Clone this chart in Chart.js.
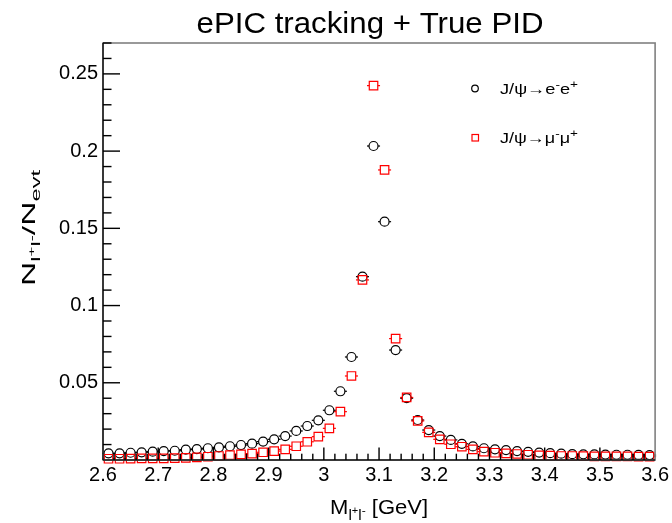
<!DOCTYPE html>
<html>
<head>
<meta charset="utf-8">
<script src="https://cdn.jsdelivr.net/npm/chart.js@4.4.1/dist/chart.umd.min.js"></script>
<style>
  html, body { margin: 0; padding: 0; background: #fff; }
</style>
</head>
<body>
<canvas id="chart" width="672" height="523"></canvas>
<script>
// bin centres of the invariant mass histogram (GeV)
const massBins = [
  2.61, 2.63, 2.65, 2.67, 2.69, 2.71, 2.73, 2.75, 2.77, 2.79,
  2.81, 2.83, 2.85, 2.87, 2.89, 2.91, 2.93, 2.95, 2.97, 2.99,
  3.01, 3.03, 3.05, 3.07, 3.09, 3.11, 3.13, 3.15, 3.17, 3.19,
  3.21, 3.23, 3.25, 3.27, 3.29, 3.31, 3.33, 3.35, 3.37, 3.39,
  3.41, 3.43, 3.45, 3.47, 3.49, 3.51, 3.53, 3.55, 3.57, 3.59
];
const binHalfWidth = 0.01;

// J/psi -> e- e+
const eeYield = [
  0.0043, 0.0043, 0.0047, 0.0050, 0.0054, 0.0058, 0.0060, 0.0067, 0.0071, 0.0076,
  0.0082, 0.0089, 0.0097, 0.0106, 0.0119, 0.0134, 0.0155, 0.0188, 0.0220, 0.0257,
  0.0322, 0.0445, 0.0667, 0.1187, 0.2033, 0.1543, 0.0712, 0.0400, 0.0259, 0.0194,
  0.0155, 0.0130, 0.0105, 0.0088, 0.0076, 0.0069, 0.0064, 0.0058, 0.0053, 0.0048,
  0.0044, 0.0041, 0.0038, 0.0037, 0.0036, 0.0035, 0.0034, 0.0034, 0.0033, 0.0032
];

// J/psi -> mu- mu+
const mumuYield = [
  0.0008, 0.0008, 0.0009, 0.0010, 0.0010, 0.0011, 0.0012, 0.0014, 0.0017, 0.0021,
  0.0026, 0.0032, 0.0037, 0.0041, 0.0050, 0.0058, 0.0069, 0.0089, 0.0118, 0.0151,
  0.0205, 0.0313, 0.0544, 0.1166, 0.2424, 0.1878, 0.0786, 0.0405, 0.0253, 0.0179,
  0.0134, 0.0102, 0.0086, 0.0069, 0.0054, 0.0047, 0.0043, 0.0039, 0.0034, 0.0030,
  0.0028, 0.0026, 0.0026, 0.0025, 0.0024, 0.0024, 0.0023, 0.0023, 0.0022, 0.0022
];

const xTickLabels = [2.6, 2.7, 2.8, 2.9, 3.0, 3.1, 3.2, 3.3, 3.4, 3.5, 3.6];
const yTickLabels = [0.05, 0.1, 0.15, 0.2, 0.25];

const FONT = '"Liberation Sans", Arial, Helvetica, sans-serif';

// text with sub/superscripts: parts = [text, scale, dy (fraction of size)]
function richWidth(ctx, parts, size) {
  let w = 0;
  for (const [t, s] of parts) {
    ctx.font = (size * s) + 'px ' + FONT;
    w += ctx.measureText(t).width;
  }
  return w;
}

function drawRich(ctx, parts, size, x, y, targetW, align) {
  const nat = richWidth(ctx, parts, size);
  const sx = targetW ? targetW / nat : 1;
  ctx.save();
  ctx.translate(x, y);
  ctx.scale(sx, 1);
  ctx.textAlign = 'left';
  ctx.textBaseline = 'alphabetic';
  ctx.fillStyle = '#000';
  let cx = align === 'center' ? -nat / 2 : 0;
  for (const [t, s, dy] of parts) {
    ctx.font = (size * s) + 'px ' + FONT;
    ctx.fillText(t, cx, dy * size);
    cx += ctx.measureText(t).width;
  }
  ctx.restore();
}

// pixel of a value on a scale, with a plain linear fallback
function px(scale, v) {
  const p = scale.getPixelForValue(v);
  if (Number.isFinite(p)) return p;
  const f = (v - scale.min) / (scale.max - scale.min);
  return scale.isHorizontal() ? scale.left + f * scale.width : scale.bottom - f * scale.height;
}

// horizontal error bars (+- half bin) drawn outside the open markers
const errorBars = {
  id: 'errorBars',
  beforeDatasetsDraw(chart) {
    const ctx = chart.ctx;
    const xs = chart.scales.x;
    chart.data.datasets.forEach((ds, i) => {
      const meta = chart.getDatasetMeta(i);
      const gap = ds.pointStyle === 'rect' ? ds.pointRadius * Math.SQRT1_2 : ds.pointRadius;
      ctx.save();
      ctx.fillStyle = ds.borderColor;
      meta.data.forEach((pt, j) => {
        const xv = ds.data[j].x;
        const x0 = px(xs, xv - binHalfWidth) - 1;
        const x1 = px(xs, xv + binHalfWidth) + 1;
        ctx.fillRect(x0, pt.y - 0.6, pt.x - gap - x0, 1.2);
        ctx.fillRect(pt.x + gap, pt.y - 0.6, x1 - pt.x - gap, 1.2);
      });
      ctx.restore();
    });
  }
};

const rootFrame = {
  id: 'rootFrame',
  afterDraw(chart) {
    const ctx = chart.ctx;
    const a = chart.chartArea;
    const xs = chart.scales.x, ys = chart.scales.y;

    ctx.save();
    ctx.strokeStyle = '#808080';
    ctx.lineWidth = 1.6;
    ctx.strokeRect(a.left, a.top, a.right - a.left, a.bottom - a.top);
    ctx.fillStyle = '#111';
    ctx.fillRect(a.left - 0.7, a.top, 1.4, a.bottom - a.top);
    ctx.fillRect(a.left, a.bottom - 0.7, a.right - a.left, 1.4);

    // inward ticks (ROOT style): minor every 0.01 / 0.02, major every 0.05 / 0.1
    ctx.fillStyle = '#000';
    for (let k = 1; k <= 27; k++) {
      const ty = px(ys, k / 100);
      const tl = k % 5 === 0 ? 17 : 8.5;
      ctx.fillRect(a.left, ty - 0.7, tl, 1.4);
    }
    for (let k = 1; k < 50; k++) {
      const tx = px(xs, 2.6 + k / 50);
      const tl = k % 5 === 0 ? 12.5 : 6.3;
      ctx.fillRect(tx - 0.7, a.bottom - tl, 1.4, tl);
    }
    ctx.restore();

    // title
    drawRich(ctx, [['ePIC tracking + True PID', 1, 0]], 29, 370, 33, 347, 'center');

    // x axis title
    drawRich(ctx, [
      ['M', 1, 0], ['l', 0.7, 0.28], ['+', 0.5, 0.02], ['l', 0.7, 0.28], ['-', 0.55, 0.02],
      [' [GeV]', 1, 0]
    ], 20, (a.left + a.right) / 2, 514, 98, 'center');

    // y axis title
    ctx.save();
    ctx.translate(35, 228);
    ctx.rotate(-Math.PI / 2);
    drawRich(ctx, [
      ['N', 1, 0], ['l', 0.7, 0.25], ['+', 0.5, 0.02], ['l', 0.7, 0.25], ['-', 0.55, 0.02],
      ['/N', 1, 0], ['evt', 0.7, 0.25]
    ], 19, 0, 0, 116, 'center');
    ctx.restore();

    // legend
    ctx.save();
    ctx.lineWidth = 1.2;
    ctx.strokeStyle = '#000';
    ctx.beginPath();
    ctx.arc(475, 88.5, 3.3, 0, Math.PI * 2);
    ctx.stroke();
    ctx.strokeStyle = '#ff0000';
    ctx.strokeRect(472, 134.5, 6.5, 6.5);
    ctx.restore();
    drawRich(ctx, [['J/\u03c8\u2192e', 1, 0], ['-', 0.75, -0.4], ['e', 1, 0], ['+', 0.75, -0.4]],
      15, 500, 94, 78, 'left');
    drawRich(ctx, [['J/\u03c8\u2192\u03bc', 1, 0], ['-', 0.75, -0.4], ['\u03bc', 1, 0], ['+', 0.75, -0.4]],
      15, 500, 142.5, 78, 'left');
  }
};

const ctx = document.getElementById('chart').getContext('2d');
new Chart(ctx, {
  type: 'scatter',
  data: {
    datasets: [
      {
        label: 'J/psi -> e-e+',
        data: massBins.map((m, i) => ({ x: m, y: eeYield[i] })),
        pointStyle: 'circle',
        pointRadius: 4.5,
        pointBorderWidth: 1.2,
        borderColor: '#000000',
        backgroundColor: 'rgba(0,0,0,0)',
        showLine: false,
        clip: false,
        order: 2
      },
      {
        label: 'J/psi -> mu-mu+',
        data: massBins.map((m, i) => ({ x: m, y: mumuYield[i] })),
        pointStyle: 'rect',
        pointRadius: 6,
        pointBorderWidth: 1.2,
        borderColor: '#ff0000',
        backgroundColor: 'rgba(0,0,0,0)',
        showLine: false,
        clip: false,
        order: 1
      }
    ]
  },
  options: {
    responsive: false,
    animation: false,
    layout: { padding: { left: 0, right: 15, top: 43, bottom: 0 } },
    plugins: {
      legend: { display: false },
      title: { display: false },
      tooltip: { enabled: false }
    },
    scales: {
      x: {
        type: 'linear',
        min: 2.6,
        max: 3.6,
        grid: { display: false, drawTicks: false },
        border: { display: false },
        afterBuildTicks: (scale) => { scale.ticks = xTickLabels.map(v => ({ value: v })); },
        afterFit: (scale) => { scale.height = 63; },
        ticks: {
          font: { family: FONT, size: 20 },
          color: '#000',
          padding: 3,
          maxRotation: 0,
          autoSkip: false,
          callback: (v) => String(+Number(v).toFixed(1))
        }
      },
      y: {
        min: 0,
        max: 0.27,
        grid: { display: false, drawTicks: false },
        border: { display: false },
        afterBuildTicks: (scale) => { scale.ticks = yTickLabels.map(v => ({ value: v })); },
        afterFit: (scale) => { scale.width = 103; },
        ticks: {
          font: { family: FONT, size: 20 },
          color: '#000',
          padding: 5,
          autoSkip: false,
          callback: (v) => String(+Number(v).toFixed(2))
        }
      }
    }
  },
  plugins: [errorBars, rootFrame]
});
</script>
</body>
</html>
